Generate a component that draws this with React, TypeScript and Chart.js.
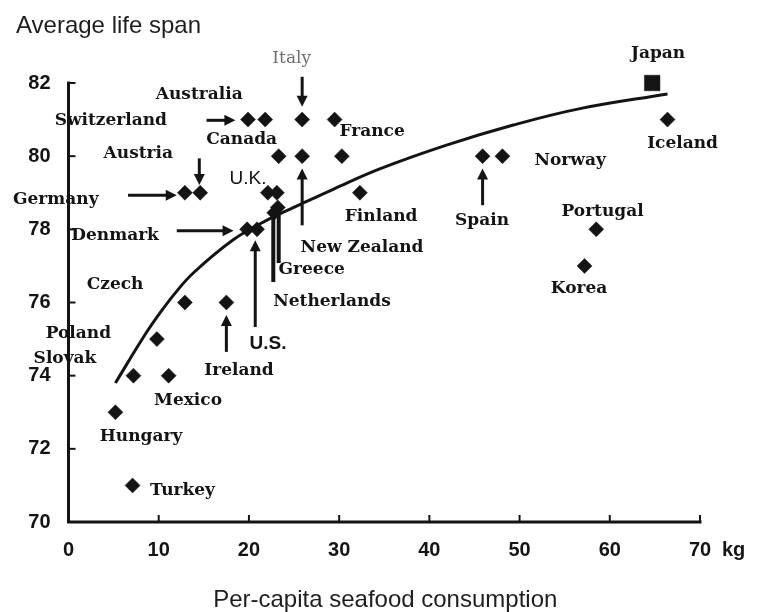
import React, { useEffect, useRef } from 'react';
import { Chart, registerables } from 'chart.js';

Chart.register(...registerables);

// ---- Data ----
// Per-capita seafood consumption (kg) and average life span (years), diamonds
const seafoodKg = [66.4, 45.9, 48.1, 58.5, 57.2, 19.9, 21.8, 25.9, 29.5, 23.3, 25.9, 30.3, 12.9, 14.6, 22.1, 23.1, 23.2, 22.8, 32.3, 19.8, 20.9, 12.9, 17.5, 9.8, 7.2, 11.1, 5.2, 7.1];
const lifeSpan = [81.0, 80.0, 80.0, 78.0, 77.0, 81.0, 81.0, 81.0, 81.0, 80.0, 80.0, 80.0, 79.0, 79.0, 79.0, 79.0, 78.6, 78.45, 79.0, 78.0, 78.0, 76.0, 76.0, 75.0, 74.0, 74.0, 73.0, 71.0];

// Japan (square marker)
const japanKg = [64.7];
const japanLife = [82.0];

// Trend curve
const trendKg = [5.2, 8.3, 10.1, 11.8, 13.8, 18.3, 22.0, 25.7, 29.4, 34.5, 41.9, 49.3, 56.7, 66.4];
const trendLife = [73.8, 75.05, 75.7, 76.25, 76.8, 77.72, 78.25, 78.68, 79.1, 79.65, 80.3, 80.85, 81.3, 81.7];

// Axis ticks
const xTickValues = [0, 10, 20, 30, 40, 50, 60, 70];
const yTickValues = [70, 72, 74, 76, 78, 80, 82];
const xUnit = 'kg';
const yTitle = 'Average life span';
const xTitle = 'Per-capita seafood consumption';

// Country labels (anchor in data units)
const labelText = ['Japan', 'Iceland', 'Norway', 'Spain', 'Portugal', 'Korea', 'Australia', 'Switzerland', 'Canada', 'Austria', 'Germany', 'Denmark', 'France', 'Finland', 'New Zealand', 'Greece', 'Netherlands', 'Czech', 'Poland', 'Slovak', 'Ireland', 'Mexico', 'Hungary', 'Turkey'];
const labelKg = [65.35, 68.07, 55.6, 45.84, 59.2, 56.6, 14.49, 4.69, 19.2, 7.74, -1.41, 5.16, 33.65, 34.65, 32.54, 26.96, 29.21, 5.16, 1.09, -0.39, 18.9, 13.25, 8.04, 12.64];
const labelLife = [82.81, 80.35, 79.89, 78.25, 78.48, 76.39, 81.67, 80.98, 80.44, 80.07, 78.8, 77.84, 80.66, 78.34, 77.51, 76.89, 76.02, 76.48, 75.16, 74.47, 74.15, 73.33, 72.33, 70.87];

// Labels drawn in a different type
const sansLabelText = ['U.K.', 'U.S.'];
const sansLabelKg = [19.9, 22.12];
const sansLabelLife = [79.39, 74.88];
const greyLabelText = ['Italy'];
const greyLabelKg = [24.74];
const greyLabelLife = [82.67];

// Arrows: tail -> head (data units)
const arrowFromKg = [25.9, 15.3, 14.5, 6.6, 12.0, 25.9, 20.7, 23.3, 22.7, 17.5, 45.9];
const arrowFromLife = [82.17, 80.98, 79.94, 78.93, 77.96, 78.11, 75.33, 77.08, 76.56, 74.65, 78.66];
const arrowToKg = [25.9, 18.5, 14.5, 12.0, 18.3, 25.9, 20.7, 23.3, 22.7, 17.5, 45.9];
const arrowToLife = [81.35, 80.98, 79.21, 78.93, 77.96, 79.66, 77.7, 78.4, 78.4, 75.66, 79.66];
const arrowHasHead = [true, true, true, true, true, true, true, false, false, true, true];

const INK = '#141414';

const annotationPlugin = {
  id: 'annotations',
  beforeDatasetsDraw(chart: any) {
    const { ctx, scales } = chart;
    const xs = scales.x;
    const ys = scales.y;
    const x0 = xs.getPixelForValue(0);
    const x1 = xs.getPixelForValue(70);
    const y0 = ys.getPixelForValue(70);
    const y1 = ys.getPixelForValue(82);
    ctx.save();
    ctx.strokeStyle = INK;
    ctx.lineWidth = 3;
    ctx.lineCap = 'square';
    ctx.beginPath();
    ctx.moveTo(x0, y1);
    ctx.lineTo(x0, y0);
    ctx.lineTo(x1, y0);
    ctx.stroke();
    ctx.lineWidth = 2;
    ctx.lineCap = 'butt';
    yTickValues.forEach((v) => {
      if (v === 70) return;
      const py = ys.getPixelForValue(v);
      ctx.beginPath();
      ctx.moveTo(x0, py);
      ctx.lineTo(x0 + 7, py);
      ctx.stroke();
    });
    xTickValues.forEach((v) => {
      if (v === 0) return;
      const px = xs.getPixelForValue(v);
      ctx.beginPath();
      ctx.moveTo(px, y0);
      ctx.lineTo(px, y0 - 7);
      ctx.stroke();
    });
    ctx.restore();
  },
  afterDatasetsDraw(chart: any) {
    const { ctx, scales } = chart;
    const xs = scales.x;
    const ys = scales.y;
    ctx.save();
    ctx.strokeStyle = INK;
    ctx.fillStyle = INK;
    for (let i = 0; i < arrowFromKg.length; i++) {
      const ax = xs.getPixelForValue(arrowFromKg[i]);
      const ay = ys.getPixelForValue(arrowFromLife[i]);
      const bx = xs.getPixelForValue(arrowToKg[i]);
      const by = ys.getPixelForValue(arrowToLife[i]);
      const ang = Math.atan2(by - ay, bx - ax);
      const headLen = 11;
      const headHalf = 5.5;
      const hasHead = arrowHasHead[i];
      const sx = hasHead ? bx - Math.cos(ang) * (headLen - 1) : bx;
      const sy = hasHead ? by - Math.sin(ang) * (headLen - 1) : by;
      ctx.lineWidth = hasHead ? 3 : 4;
      ctx.beginPath();
      ctx.moveTo(ax, ay);
      ctx.lineTo(sx, sy);
      ctx.stroke();
      if (hasHead) {
        const bxh = bx - Math.cos(ang) * headLen;
        const byh = by - Math.sin(ang) * headLen;
        ctx.beginPath();
        ctx.moveTo(bx, by);
        ctx.lineTo(bxh + Math.sin(ang) * headHalf, byh - Math.cos(ang) * headHalf);
        ctx.lineTo(bxh - Math.sin(ang) * headHalf, byh + Math.cos(ang) * headHalf);
        ctx.closePath();
        ctx.fill();
      }
    }
    ctx.restore();
  },
  afterDraw(chart: any) {
    const { ctx, scales } = chart;
    const xs = scales.x;
    const ys = scales.y;
    ctx.save();
    ctx.textAlign = 'center';
    ctx.textBaseline = 'middle';
    ctx.fillStyle = INK;
    ctx.font = 'bold 17px "DejaVu Serif", serif';
    labelText.forEach((t, i) => {
      ctx.fillText(t, xs.getPixelForValue(labelKg[i]), ys.getPixelForValue(labelLife[i]));
    });
    sansLabelText.forEach((t, i) => {
      ctx.font = (i === 0 ? 'normal' : 'bold') + ' 19px "Liberation Sans", Arial, sans-serif';
      ctx.fillText(t, xs.getPixelForValue(sansLabelKg[i]), ys.getPixelForValue(sansLabelLife[i]));
    });
    ctx.fillStyle = '#6e6e6e';
    ctx.font = 'normal 17px "DejaVu Serif", serif';
    greyLabelText.forEach((t, i) => {
      ctx.fillText(t, xs.getPixelForValue(greyLabelKg[i]), ys.getPixelForValue(greyLabelLife[i]));
    });
    // unit after the last x tick
    ctx.fillStyle = INK;
    ctx.font = 'bold 20px "Liberation Sans", Arial, sans-serif';
    ctx.textAlign = 'left';
    ctx.fillText(xUnit, xs.getPixelForValue(70) + 22, xs.top + 28);
    // titles
    ctx.fillStyle = '#1e1e1e';
    ctx.font = 'normal 24px "Liberation Sans", Arial, sans-serif';
    ctx.textBaseline = 'alphabetic';
    ctx.textAlign = 'left';
    ctx.fillText(yTitle, 16, 33);
    ctx.textAlign = 'center';
    ctx.fillText(xTitle, (xs.left + xs.right) / 2 + 1, 607);
    ctx.restore();
  },
};

export default function App() {
  const ref = useRef<HTMLCanvasElement>(null);
  useEffect(() => {
    const canvas = ref.current;
    if (!canvas) return;
    const tickFont = { family: '"Liberation Sans", Arial, sans-serif', size: 20, weight: 'bold' as const };
    const chart = new Chart(canvas, {
      type: 'scatter',
      data: {
        datasets: [
          {
            type: 'line',
            label: 'trend',
            data: trendKg.map((x, i) => ({ x, y: trendLife[i] })),
            borderColor: INK,
            borderWidth: 3,
            pointRadius: 0,
            tension: 0.4,
            fill: false,
            clip: false,
          } as any,
          {
            label: 'countries',
            data: seafoodKg.map((x, i) => ({ x, y: lifeSpan[i] })),
            pointStyle: 'rectRot',
            pointRadius: 7.5,
            backgroundColor: INK,
            borderColor: INK,
            borderWidth: 0.5,
            clip: false,
          } as any,
          {
            label: 'Japan',
            data: japanKg.map((x, i) => ({ x, y: japanLife[i] })),
            pointStyle: 'rect',
            pointRadius: 11,
            backgroundColor: INK,
            borderColor: INK,
            borderWidth: 0.5,
            clip: false,
          } as any,
        ],
      },
      options: {
        animation: false,
        responsive: false,
        maintainAspectRatio: false,
        layout: { padding: { left: 0, top: 83, right: 63, bottom: 0 } },
        plugins: {
          legend: { display: false },
          tooltip: { enabled: false },
          title: { display: false },
        },
        scales: {
          x: {
            type: 'linear',
            min: 0,
            max: 70,
            afterBuildTicks: (s: any) => {
              s.ticks = xTickValues.map((v) => ({ value: v }));
            },
            ticks: { font: tickFont, color: INK, padding: 16, callback: (v: any) => String(v), maxRotation: 0 },
            grid: { display: false, drawTicks: false },
            border: { display: false },
            afterFit: (s: any) => {
              s.height = 90;
            },
          },
          y: {
            type: 'linear',
            min: 70,
            max: 82,
            afterBuildTicks: (s: any) => {
              s.ticks = yTickValues.map((v) => ({ value: v }));
            },
            ticks: { font: tickFont, color: INK, padding: 18, callback: (v: any) => String(v) },
            grid: { display: false, drawTicks: false },
            border: { display: false },
            afterFit: (s: any) => {
              s.width = 68.5;
            },
          },
        },
      },
      plugins: [annotationPlugin],
    });
    return () => chart.destroy();
  }, []);
  return (
    <div style={{ position: 'fixed', left: 0, top: 0, width: 763, height: 612, background: '#ffffff' }}>
      <canvas ref={ref} width={763} height={612} style={{ display: 'block' }} />
    </div>
  );
}
